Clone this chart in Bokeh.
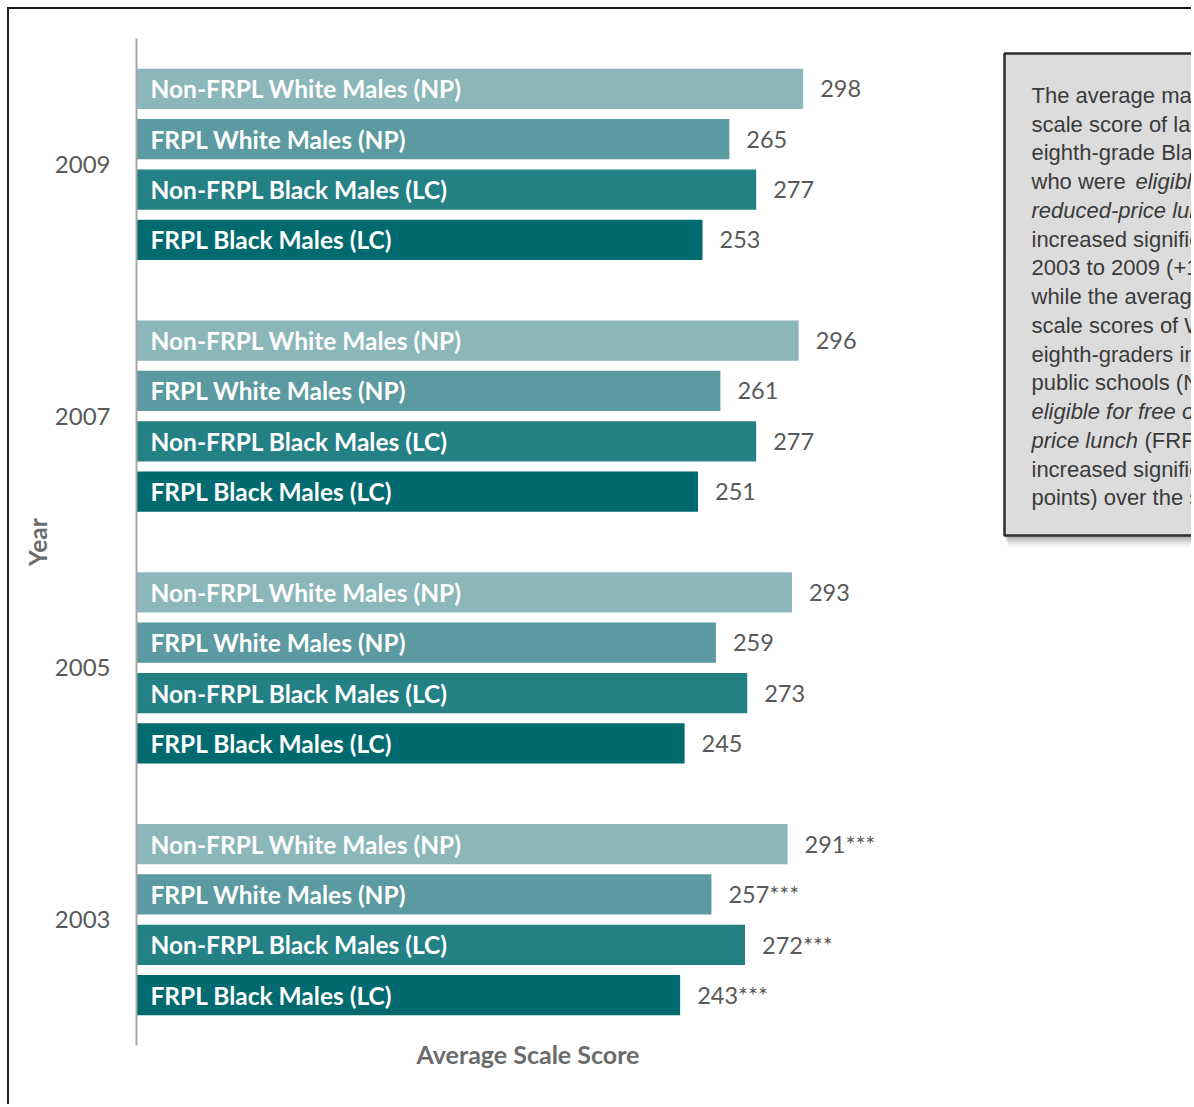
from bokeh.plotting import figure
from bokeh.models import ColumnDataSource, Range1d, FixedTicker, Title
from bokeh.core.properties import value
from bokeh.embed import file_html
from bokeh.resources import INLINE

# ---------------- data ----------------
years = ["2009", "2007", "2005", "2003"]
groups = ["Non-FRPL White Males (NP)", "FRPL White Males (NP)",
          "Non-FRPL Black Males (LC)", "FRPL Black Males (LC)"]
scores_2009 = [298, 265, 277, 253]
scores_2007 = [296, 261, 277, 251]
scores_2005 = [293, 259, 273, 245]
scores_2003 = [291, 257, 272, 243]
significance = ["", "", "", "***"]          # per year (2003 differs significantly from 2009)
colors = ["#8BB6BA", "#5A9AA0", "#238085", "#006A6E"]

note_lines = [
    [("The average mathematics", "normal")],
    [("scale score of large-city", "normal")],
    [("eighth-grade Black males", "normal")],
    [("who were ", "normal"), ("eligible for free or", "italic")],
    [("reduced-price lunch (LC)", "italic")],
    [("increased significantly from", "normal")],
    [("2003 to 2009 (+10 points),", "normal")],
    [("while the average mathematics", "normal")],
    [("scale scores of White", "normal")],
    [("eighth-graders in national", "normal")],
    [("public schools (NP) who were", "normal")],
    [("eligible for free or reduced-", "italic")],
    [("price lunch", "italic"), ("(FRPL)", "normal")],
    [("increased significantly (+7", "normal")],
    [("points) over the same period.", "normal")],
]
note_seg_offsets = {(3, 1): 104, (12, 1): 113}   # pixel offsets of second segments

# ---------------- layout constants ----------------
W, H = 1184, 1097
ML, MT, MB = 127, 29, 61
FRAME_W = W - ML
FRAME_H = H - MT - MB
SCALE_MAX = 350.0                      # the original value axis spanned 0..350 over 783 px
PX_PER_UNIT = 783.0 / SCALE_MAX
X_END = FRAME_W / PX_PER_UNIT
N_SLOTS = 20
SLOT_PX = FRAME_H / N_SLOTS
FRAME_LEFT_PAGE, FRAME_TOP_PAGE = 136, 38

def dx(px):
    return (px - FRAME_LEFT_PAGE) / PX_PER_UNIT

def dy(py):
    return (py - FRAME_TOP_PAGE) / SLOT_PX

all_scores = [scores_2009, scores_2007, scores_2005, scores_2003]
slot, score, grp, col, lab = [], [], [], [], []
for i, (yr, sc) in enumerate(zip(years, all_scores)):
    for j in range(4):
        slot.append(i * 5 + j + 1)
        score.append(sc[j])
        grp.append(groups[j])
        col.append(colors[j])
        lab.append(f"{sc[j]}{significance[i]}")
src = ColumnDataSource(dict(slot=slot, score=score, grp=grp, col=col, lab=lab))

p = figure(width=W, height=H, output_backend="svg", toolbar_location=None,
           x_range=Range1d(0, X_END), y_range=Range1d(N_SLOTS, 0),
           min_border_left=ML, min_border_top=MT, min_border_right=0,
           min_border_bottom=MB, x_axis_location=None)
p.styles = {"margin-left": "7px", "margin-top": "7px",
            "border-left": "2px solid #1e1e1e", "border-top": "2px solid #1e1e1e"}
p.grid.visible = False
p.outline_line_color = None
p.background_fill_color = "white"
p.border_fill_color = "white"

ya = p.yaxis[0]
ya.ticker = FixedTicker(ticks=[i * 5 + 2.5 for i in range(4)])
ya.major_label_overrides = {i * 5 + 2.5: yr for i, yr in enumerate(years)}
ya.major_tick_out = 0
ya.major_tick_in = 0
ya.minor_tick_out = 0
ya.minor_tick_in = 0
ya.major_label_standoff = 26
ya.major_label_text_font = "Lato"
ya.major_label_text_font_size = "24px"
ya.major_label_text_color = "#595959"
ya.axis_line_color = "#a6a6a6"
ya.axis_line_width = 2
ya.axis_label = "Year"
ya.axis_label_text_font = "Lato"
ya.axis_label_text_font_style = "bold"
ya.axis_label_text_font_size = "24.5px"
ya.axis_label_text_color = "#6b6b6b"
ya.axis_label_standoff = 0

p.hbar(y="slot", left=0, right="score", height=0.8, fill_color="col",
       line_color=None, source=src)
p.text(x=0, y="slot", text="grp", x_offset=14, text_color="white",
       text_font=value("Lato"), text_font_style="bold", text_font_size="24.5px",
       text_baseline="middle", text_align="left", source=src)
p.text(x="score", y="slot", text="lab", x_offset=17, text_color="#595959",
       text_font=value("Lato"), text_font_size="23.5px",
       text_baseline="middle", text_align="left", source=src)

# ---------------- note box ----------------
box_l, box_t, box_b = dx(1004), dy(53), dy(535)
for off, a in [(12, 0.04), (10, 0.06), (8, 0.08), (6, 0.10), (4, 0.12), (2, 0.14)]:
    p.quad(left=box_l + (off * 0.3) / PX_PER_UNIT, right=X_END + 10,
           top=box_t + off / SLOT_PX, bottom=box_b + off / SLOT_PX,
           fill_color="#444444", fill_alpha=a, line_color=None)
p.quad(left=box_l, right=X_END + 10, top=box_t, bottom=box_b,
       fill_color="#DCDCDD", line_color="#2e2e2e", line_width=2.5)

for li, segs in enumerate(note_lines):
    y = dy(95 + li * 28.74)
    for si, (t, style) in enumerate(segs):
        xo = note_seg_offsets.get((li, si), 0)
        p.text(x=dx(1031), y=y, text=[t], x_offset=xo, text_color="#3a3a3a",
               text_font=value("Liberation Sans"), text_font_style=style,
               text_font_size="22px", text_baseline="middle", text_align="left")

title_kw = dict(text="Average Scale Score", align="left", offset=280,
                text_font="Lato", text_font_style="bold",
                text_font_size="25px", text_color="#6b6b6b")
try:
    x_title = Title(standoff=-18, **title_kw)
except Exception:
    x_title = Title(standoff=0, **title_kw)
p.add_layout(x_title, "below")

open("out.html", "w").write(file_html(p, INLINE))
